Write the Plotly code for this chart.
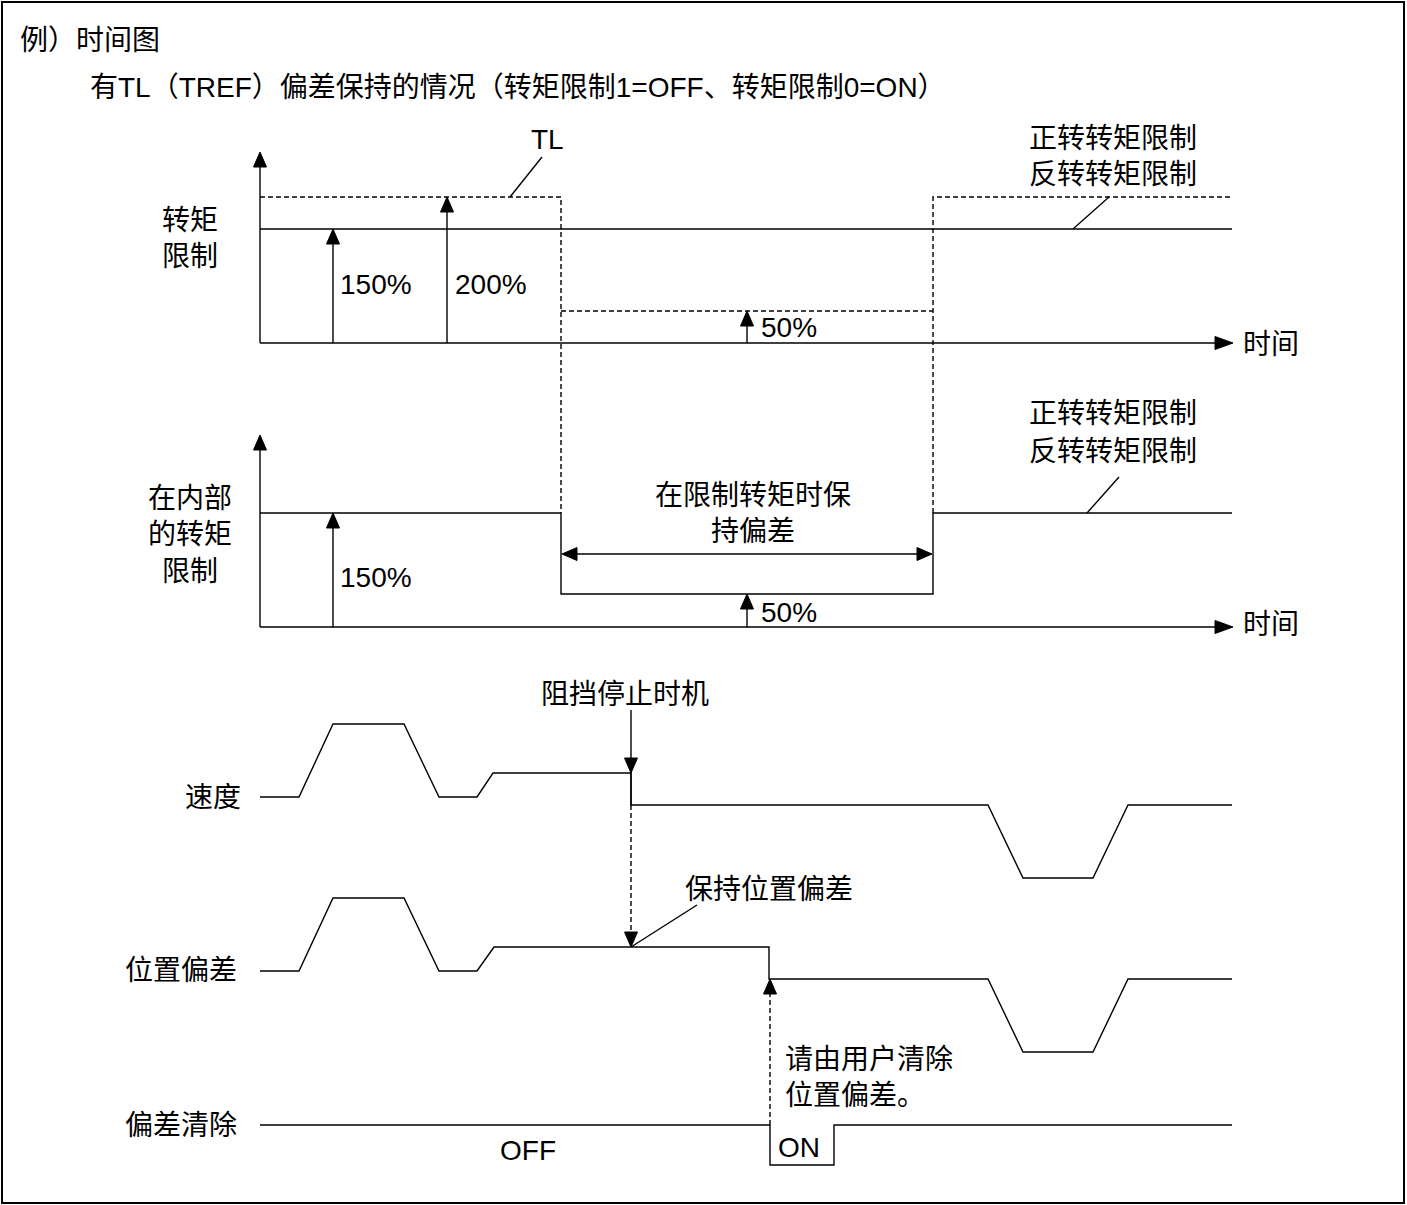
import plotly.graph_objects as go

# ---------------- data (diagram units: x = time, y = signal level, screen-like) -------------
t_start, t_end = 260, 1232
t_tl_on, t_tl_off = 561, 933          # TL (TREF) active interval
t_stop = 631                           # stop timing
t_clear_on, t_clear_off = 770, 834     # deviation clear pulse

# panel 1: torque limit
p1_axis_y = 343
p1_axis_top = 152
p1_limit_y = 229        # 150 %
p1_tl_y = 197           # 200 %
p1_tl_low_y = 311       # 50 %

# panel 2: internal torque limit
p2_axis_y = 627
p2_axis_top = 435
p2_t = [260, 561, 561, 933, 933, 1232]
p2_y = [513, 513, 594, 594, 513, 513]

# speed
speed_t = [260, 299, 333, 404, 439, 477, 493, 631, 631, 988, 1023, 1093, 1128, 1232]
speed_y = [797, 797, 724, 724, 797, 797, 773, 773, 805, 805, 878, 878, 805, 805]

# position deviation
pos_t = [260, 299, 333, 404, 439, 477, 494, 769, 769, 988, 1023, 1093, 1128, 1232]
pos_y = [971, 971, 898, 898, 971, 971, 947, 947, 979, 979, 1052, 1052, 979, 979]

# deviation clear
clr_t = [260, 770, 770, 834, 834, 1232]
clr_y = [1125, 1125, 1165, 1165, 1125, 1125]

pct_labels = ["150%", "200%", "50%"]
row_labels = ["转矩<br>限制", "在内部<br>的转矩<br>限制", "速度", "位置偏差", "偏差清除"]

W, H = 1407, 1205
FONT = "Liberation Sans, Arial, Noto Sans CJK SC"
FS = 28
LW = 1.4
DASH = "5px,3px"

fig = go.Figure()


def line(xs, ys, dash=None, width=LW, color="black"):
    fig.add_trace(go.Scatter(x=xs, y=ys, mode="lines",
                             line=dict(color=color, width=width, dash=dash),
                             hoverinfo="skip", showlegend=False))


def head(x, y, d, L=15, w=6.5):
    # filled triangle arrowhead, tip at (x,y), pointing direction d
    if d == "up":
        xs, ys = [x, x - w, x + w, x], [y, y + L, y + L, y]
    elif d == "down":
        xs, ys = [x, x - w, x + w, x], [y, y - L, y - L, y]
    elif d == "right":
        xs, ys = [x, x - L, x - L, x], [y, y - w, y + w, y]
    else:
        xs, ys = [x, x + L, x + L, x], [y, y - w, y + w, y]
    fig.add_trace(go.Scatter(x=xs, y=ys, mode="lines", fill="toself",
                             fillcolor="black", line=dict(color="black", width=1),
                             hoverinfo="skip", showlegend=False))


def text(x, y, s, xa="center", ya="middle", size=FS):
    fig.add_annotation(x=x, y=y, text=s, showarrow=False, xanchor=xa, yanchor=ya,
                       font=dict(family=FONT, size=size, color="black"),
                       align="center" if xa == "center" else "left")


# ---------------- panel 1 ----------------
line([t_start, t_start], [p1_axis_y, p1_axis_top + 10])
head(t_start, p1_axis_top, "up")
line([t_start, t_end - 10], [p1_axis_y, p1_axis_y])
head(t_end + 1, p1_axis_y, "right", L=18)
line([t_start, t_end], [p1_limit_y, p1_limit_y])
# TL dashed
line([t_start, t_tl_on, t_tl_on], [p1_tl_y, p1_tl_y, p2_y[0]], dash=DASH)
line([t_tl_on, t_tl_off], [p1_tl_low_y, p1_tl_low_y], dash=DASH)
line([t_tl_off, t_tl_off, t_end], [p2_y[0], p1_tl_y, p1_tl_y], dash=DASH)
# value arrows
line([333, 333], [p1_axis_y, p1_limit_y + 10])
head(333, p1_limit_y, "up")
line([447, 447], [p1_axis_y, p1_tl_y + 10])
head(447, p1_tl_y, "up")
line([747, 747], [p1_axis_y, p1_tl_low_y + 10])
head(747, p1_tl_low_y, "up")
text(338, 284, pct_labels[0], xa="left")
text(453, 284, pct_labels[1], xa="left")
text(759, 327, pct_labels[2], xa="left")
# leaders
line([510, 542], [p1_tl_y, 157])
text(547, 139, "TL")
line([1073, 1109], [p1_limit_y, p1_tl_y])
text(1113, 138, "正转转矩限制")
text(1113, 174, "反转转矩限制")
text(1241, 344, "时间", xa="left")
text(190, 238, row_labels[0])

# ---------------- panel 2 ----------------
line([t_start, t_start], [p2_axis_y, p2_axis_top + 10])
head(t_start, p2_axis_top, "up")
line([t_start, t_end - 10], [p2_axis_y, p2_axis_y])
head(t_end + 1, p2_axis_y, "right", L=18)
line(p2_t, p2_y)
line([333, 333], [p2_axis_y, p2_y[0] + 10])
head(333, p2_y[0], "up")
line([747, 747], [p2_axis_y, p2_y[2] + 10])
head(747, p2_y[2], "up")
text(338, 577, pct_labels[0], xa="left")
text(759, 612, pct_labels[2], xa="left")
# held interval double arrow
line([t_tl_on + 10, t_tl_off - 10], [554, 554])
head(t_tl_on + 1, 554, "left")
head(t_tl_off - 1, 554, "right")
text(753, 495, "在限制转矩时保")
text(753, 531, "持偏差")
line([1087, 1119], [p2_y[-1], 477])
text(1113, 413, "正转转矩限制")
text(1113, 451, "反转转矩限制")
text(1241, 624, "时间", xa="left")
text(190, 535, row_labels[1])

# ---------------- speed ----------------
line(speed_t, speed_y)
line([t_stop, t_stop], [710, 805])
head(t_stop, 773, "down")
text(625, 694, "阻挡停止时机")
text(213, 797, row_labels[2])
# dashed down to position deviation
line([t_stop, t_stop], [805, 935], dash=DASH)
head(t_stop, 947, "down")

# ---------------- position deviation ----------------
line(pos_t, pos_y)
line([t_stop, 697], [947, 905])
text(769, 889, "保持位置偏差")
text(181, 970, row_labels[3])

# ---------------- deviation clear ----------------
line(clr_t, clr_y)
line([t_clear_on, t_clear_on], [clr_y[0], 992], dash=DASH)
head(t_clear_on, 979, "up")
text(783, 1059, "请由用户清除", xa="left")
text(783, 1095, "位置偏差。", xa="left")
text(528, 1150, "OFF")
text(776, 1147, "ON", xa="left")
text(181, 1125, row_labels[4])

# ---------------- titles ----------------
text(18, 40, "例）时间图", xa="left")
text(88, 87, "有TL（TREF）偏差保持的情况（转矩限制1=OFF、转矩限制0=ON）", xa="left")

# frame
fig.add_shape(type="rect", x0=2, y0=2, x1=1404, y1=1203,
              line=dict(color="black", width=2), xref="x", yref="y")

fig.update_layout(
    width=W, height=H, autosize=False,
    margin=dict(l=0, r=0, t=0, b=0, pad=0),
    paper_bgcolor="white", plot_bgcolor="white",
    xaxis=dict(range=[0, W], visible=False, fixedrange=True),
    yaxis=dict(range=[H, 0], visible=False, fixedrange=True),
    hovermode=False,
)
fig.write_html("out.html", config={"displayModeBar": False},
               post_script="document.body.style.margin='0';document.body.style.overflow='hidden';")
